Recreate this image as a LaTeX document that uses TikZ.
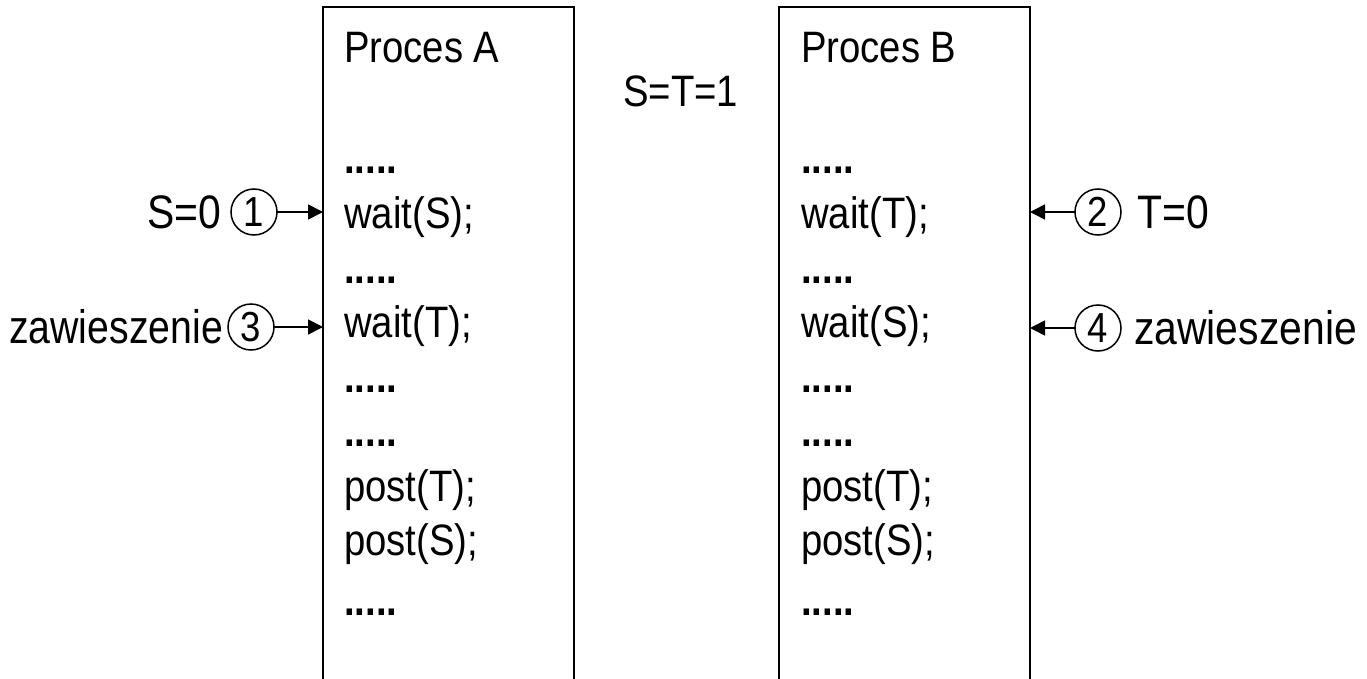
\documentclass[tikz,border=0pt]{standalone}
\usepackage{fontspec}
\setmainfont{Liberation Sans}[FakeStretch=0.87]
\usetikzlibrary{arrows.meta}
\begin{document}
\begin{tikzpicture}[x=1pt,y=-1pt,
  proc/.style={draw, line width=1.8pt, rectangle, minimum width=251pt,
    minimum height=720pt, anchor=north west, inner sep=0pt, outer sep=0pt},
  code/.style={anchor=base west, inner sep=0pt, font=\fontsize{44}{50}\selectfont},
  lbl/.style={anchor=base west, inner sep=0pt, font=\fontsize{47}{56}\selectfont},
  num/.style={draw, circle, line width=1.5pt, minimum size=46pt, inner sep=0pt,
    outer sep=0pt, font=\fontsize{42}{48}\selectfont},
  arr/.style={-{Triangle[length=15pt,width=15pt]}, line width=1.7pt}]
\clip (0,0) rectangle (1367,679);

% the two processes
\node[proc] (boxA) at (323,7) {};
\node[proc] (boxB) at (779,7) {};

% process A
\node[code] (a0) at (344,63)  {Proces A};
\node[code] (a1) at (344,174) {\textbf{.....}};
\node[code] (a2) at (344,228) {wait(S);};
\node[code] (a3) at (344,283) {\textbf{.....}};
\node[code] (a4) at (344,337) {wait(T);};
\node[code] (a5) at (344,392) {\textbf{.....}};
\node[code] (a6) at (344,446) {\textbf{.....}};
\node[code] (a7) at (344,501) {post(T);};
\node[code] (a8) at (344,555) {post(S);};
\node[code] (a9) at (344,615) {\textbf{.....}};

% process B
\node[code] (b0) at (801,63)  {Proces B};
\node[code] (b1) at (801,174) {\textbf{.....}};
\node[code] (b2) at (801,228) {wait(T);};
\node[code] (b3) at (801,283) {\textbf{.....}};
\node[code] (b4) at (801,337) {wait(S);};
\node[code] (b5) at (801,392) {\textbf{.....}};
\node[code] (b6) at (801,446) {\textbf{.....}};
\node[code] (b7) at (801,501) {post(T);};
\node[code] (b8) at (801,555) {post(S);};
\node[code] (b9) at (801,615) {\textbf{.....}};

% initial semaphore values
\node[code] (init) at (623,107) {S=T=1};

% events on the left
\node[num] (n1) at (254,212) {1};
\node[lbl] (l1) at (147,228) {S=0};
\node[num] (n3) at (251,327) {3};
\node[lbl] (l3) at (9,343) {\scalebox{0.96}[1]{zawieszenie}};
\draw[arr] (n1.east) -- (n1 -| boxA.west);
\draw[arr] (n3.east) -- (n3 -| boxA.west);

% events on the right
\node[num] (n2) at (1098,212) {2};
\node[lbl] (l2) at (1137,228) {T=0};
\node[num] (n4) at (1098,328) {4};
\node[lbl] (l4) at (1134,344) {zawieszenie};
\draw[arr] (n2.west) -- (n2 -| boxB.east);
\draw[arr] (n4.west) -- (n4 -| boxB.east);
\end{tikzpicture}
\end{document}
